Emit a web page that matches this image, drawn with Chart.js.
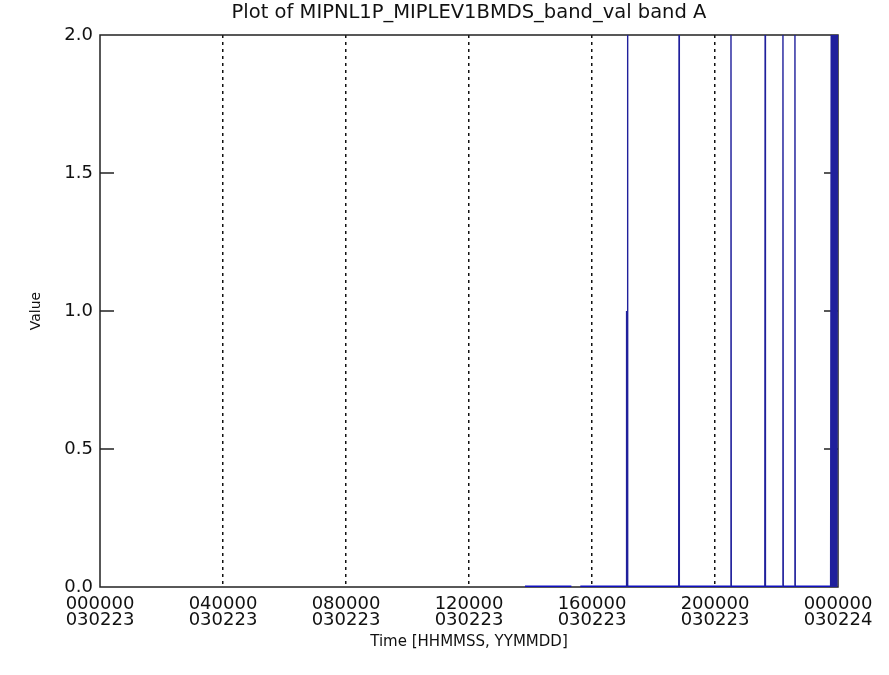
<!DOCTYPE html>
<html>
<head>
<meta charset="utf-8">
<script src="https://cdn.jsdelivr.net/npm/chart.js@4.4.1/dist/chart.umd.min.js"></script>
<style>
  html, body { margin: 0; padding: 0; background: #fff; }
  canvas { display: block; }
</style>
</head>
<body>
<canvas id="plot" width="889" height="675"></canvas>
<script>
// time in hours since 000000 030223, value of band A
const times = [13.82, 15.33, 15.35, 15.62,
    17.11, 17.12, 17.13, 17.14, 17.15, 17.16, 17.17,
    18.82, 18.83, 18.84,
    20.51, 20.52, 20.53,
    21.62, 21.63, 21.64,
    22.20, 22.21, 22.22,
    22.59, 22.60, 22.61,
    23.76, 23.78, 23.80, 23.82, 23.84, 23.86, 23.88, 23.90, 23.92, 23.94, 23.96, 23.98, 24.0];
const values = [0, 0, null, 0,
    0, 1.0, 0, 1.0, 0, 2.0, 0,
    0, 2.0, 0,
    0, 2.0, 0,
    0, 2.0, 0,
    0, 2.0, 0,
    0, 2.0, 0,
    0, 2.0, 0, 2.0, 0, 2.0, 0, 2.0, 0, 2.0, 0, 2.0, 2.0];

const timeTicks = ['000000', '040000', '080000', '120000', '160000', '200000', '000000'];
const dateTicks = ['030223', '030223', '030223', '030223', '030223', '030223', '030224'];

const FONT = 'DejaVu Sans';

// black frame and inward y ticks on both sides, drawn under the data
const framePlugin = {
    id: 'frame',
    beforeDatasetsDraw(chart) {
        const ctx = chart.ctx;
        const a = chart.chartArea;
        const y = chart.scales.y;
        ctx.save();
        ctx.strokeStyle = '#222';
        ctx.lineWidth = 1.5;
        ctx.strokeRect(a.left, a.top, a.right - a.left, a.bottom - a.top);
        [0.5, 1.0, 1.5].forEach(function(v) {
            const py = y.getPixelForValue(v);
            ctx.beginPath();
            ctx.moveTo(a.left, py); ctx.lineTo(a.left + 14, py);
            ctx.moveTo(a.right - 14, py); ctx.lineTo(a.right, py);
            ctx.stroke();
        });
        ctx.restore();
    }
};

function flat(c) { return c.p0.parsed.y === c.p1.parsed.y; }

new Chart(document.getElementById('plot').getContext('2d'), {
    type: 'line',
    data: {
        datasets: [{
            data: times.map(function(t, i) { return { x: t, y: values[i] }; }),
            borderColor: '#1010c0',
            borderWidth: 1.5,
            pointRadius: 0,
            tension: 0,
            spanGaps: false,
            segment: {
                borderColor: function(c) { return flat(c) ? '#1010c0' : '#20209c'; },
                borderWidth: function(c) { return flat(c) ? 3 : 1.4; }
            }
        }]
    },
    options: {
        responsive: false,
        animation: false,
        events: [],
        layout: { padding: { left: 0, right: 51, top: 0, bottom: 0 } },
        plugins: { legend: { display: false }, tooltip: { enabled: false } },
        scales: {
            x: {
                type: 'linear', position: 'bottom', min: 0, max: 24,
                afterFit: function(s) { s.height = 88; },
                grid: {
                    drawTicks: false,
                    color: function(c) { return (c.tick.value > 0 && c.tick.value < 24) ? '#111' : 'rgba(0,0,0,0)'; },
                    lineWidth: 1.5
                },
                border: { display: false, dash: [3, 4] },
                ticks: {
                    stepSize: 4, autoSkip: false, maxRotation: 0, padding: 9,
                    color: '#111',
                    font: { family: FONT, size: 18, lineHeight: 0.9 },
                    callback: function(v) { const i = Math.round(v / 4); return [timeTicks[i], dateTicks[i]]; }
                },
                title: {
                    display: true, text: 'Time [HHMMSS, YYMMDD]', color: '#111',
                    font: { family: FONT, size: 15, lineHeight: 1.2 },
                    padding: { top: 0, bottom: 24 }
                }
            },
            x2: {
                type: 'linear', position: 'top', min: 0, max: 24,
                afterFit: function(s) { s.height = 35; },
                grid: { display: false, drawTicks: false },
                border: { display: false },
                ticks: { display: false },
                title: {
                    display: true, text: 'Plot of MIPNL1P_MIPLEV1BMDS_band_val band A', color: '#111',
                    font: { family: FONT, size: 19.5, lineHeight: 1.2 },
                    padding: { top: 1, bottom: 0 }
                }
            },
            y: {
                min: 0, max: 2,
                afterFit: function(s) { s.width = 100; },
                grid: { display: false, drawTicks: false },
                border: { display: false },
                ticks: {
                    stepSize: 0.5, padding: 7, color: '#111',
                    font: { family: FONT, size: 18 },
                    callback: function(v) { return v.toFixed(1); }
                },
                title: {
                    display: true, text: 'Value', color: '#111',
                    font: { family: FONT, size: 14, lineHeight: 1.2 },
                    padding: { top: 28, bottom: 0 }
                }
            }
        }
    },
    plugins: [framePlugin]
});
</script>
</body>
</html>
